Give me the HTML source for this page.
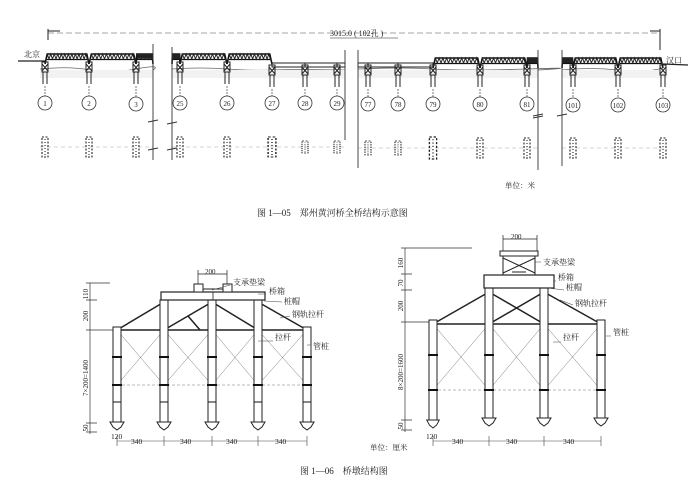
<!DOCTYPE html>
<html><head><meta charset="utf-8"><style>
html,body{margin:0;padding:0;background:#fff;}
svg{display:block;}
text{font-family:"Liberation Serif","Noto Serif CJK SC",serif;fill:#222;}
</style></head><body>
<svg width="690" height="488" viewBox="0 0 690 488" xmlns="http://www.w3.org/2000/svg">
<defs>
<g id="truss">
<path d="M0,11 L5,1 L95,1 L100,11" fill="none" stroke="#111" stroke-width="1.6" vector-effect="non-scaling-stroke"/>
<path d="M4,6.5 L96,6.5" stroke="#111" stroke-width="1.2" vector-effect="non-scaling-stroke"/>
<polyline points="5,1 9,6 13,1 17,6 21,1 25,6 29,1 33,6 37,1 41,6 45,1 49,6 53,1 57,6 61,1 65,6 69,1 73,6 77,1 81,6 85,1 89,6 93,1 96,6" fill="none" stroke="#222" stroke-width="1" vector-effect="non-scaling-stroke"/>
</g>
<g id="gird">
<rect x="0" y="0" width="100" height="4" fill="none" stroke="#222" stroke-width="1" vector-effect="non-scaling-stroke"/>
</g>
<g id="pier" stroke="#222" fill="none" stroke-width="1">
<path d="M-3,-2 L3,-2 L3,8 L-3,8 Z"/>
<path d="M-3,0 L3,7 M3,0 L-3,7"/>
<path d="M-2,8 L-2,20 M2,8 L2,20"/>
<path d="M0,22 L0,33" stroke-width="0.6" stroke-dasharray="2,1"/>
</g>
<g id="plan" fill="none" stroke="#222" stroke-width="1.1" stroke-dasharray="2,1.5">
<rect x="-3" y="-10" width="6" height="20"/>
<path d="M0,-8 L0,8" stroke-dasharray="1,2"/>
</g>
<g id="foot" stroke="#222" fill="#fff" stroke-width="1">
<path d="M-7,0 L7,0 L4,5 L0,8 L-4,5 Z"/>
</g>
</defs>

<path d="M48,33 L660,33" stroke="#888" stroke-width="0.8" stroke-dasharray="6,3"/>
<path d="M48,29 L48,40 M48,31 L60,31 M660,29 L660,50 M650,31 L660,31" stroke="#222" stroke-width="1"/>
<text x="330" y="36" font-size="8">3015.0 ( 102孔 )</text>
<path d="M330,38 L398,38" stroke="#222" stroke-width="0.6"/>

<text x="24" y="57" font-size="8">北京</text>
<path d="M18,61 L45,61" stroke="#222" stroke-width="1.3"/>
<text x="666" y="63" font-size="8">汉口</text>
<path d="M663,64 L688,65" stroke="#222" stroke-width="1.2"/>

<g stroke="#666" stroke-width="0.8" fill="none">
<path d="M40,69 Q70,66 90,70 T136,69 T153,70"/>
<path d="M172,69 Q200,67 227,69 T272,70 T345,70"/>
<path d="M358,69 Q400,67 433,69 T527,69 T538,70"/>
<path d="M562,70 Q590,67 618,70 T663,68"/>
</g>
<rect x="40" y="70" width="113" height="8" fill="#f2f2f2"/>
<rect x="172" y="70" width="173" height="8" fill="#f2f2f2"/>
<rect x="358" y="70" width="180" height="8" fill="#f2f2f2"/>
<rect x="562" y="70" width="105" height="8" fill="#f2f2f2"/>

<use href="#truss" transform="translate(45,53) scale(0.44,1)"/>
<use href="#truss" transform="translate(89,53) scale(0.47,1)"/>
<use href="#truss" transform="translate(136,53) scale(0.17,1)"/>
<use href="#truss" transform="translate(172,53) scale(0.08,1)"/>
<use href="#truss" transform="translate(180,53) scale(0.47,1)"/>
<use href="#truss" transform="translate(227,53) scale(0.45,1)"/>
<use href="#gird" transform="translate(272,63) scale(0.33,1)"/>
<use href="#gird" transform="translate(305,63) scale(0.32,1)"/>
<use href="#gird" transform="translate(337,63) scale(0.08,1)"/>
<use href="#gird" transform="translate(358,63) scale(0.10,1)"/>
<use href="#gird" transform="translate(368,63) scale(0.30,1)"/>
<use href="#gird" transform="translate(398,63) scale(0.35,1)"/>
<use href="#truss" transform="translate(433,57) scale(0.47,1)"/>
<use href="#truss" transform="translate(480,57) scale(0.47,1)"/>
<use href="#truss" transform="translate(527,57) scale(0.11,1)"/>
<use href="#truss" transform="translate(562,57) scale(0.11,1)"/>
<use href="#truss" transform="translate(573,57) scale(0.45,1)"/>
<use href="#truss" transform="translate(618,57) scale(0.45,1)"/>

<g>
<use href="#pier" transform="translate(45,64)"/>
<use href="#pier" transform="translate(89,64)"/>
<use href="#pier" transform="translate(136,64)"/>
<use href="#pier" transform="translate(180,64)"/>
<use href="#pier" transform="translate(227,64)"/>
<use href="#pier" transform="translate(272,67)"/>
<use href="#pier" transform="translate(305,67)"/>
<use href="#pier" transform="translate(337,67)"/>
<use href="#pier" transform="translate(368,67)"/>
<use href="#pier" transform="translate(398,67)"/>
<use href="#pier" transform="translate(433,67)"/>
<use href="#pier" transform="translate(480,67)"/>
<use href="#pier" transform="translate(527,67)"/>
<use href="#pier" transform="translate(573,67)"/>
<use href="#pier" transform="translate(618,67)"/>
<use href="#pier" transform="translate(663,67)"/>
</g>

<g fill="#fff" stroke="#333" stroke-width="0.8">
<circle cx="45" cy="103" r="7"/><circle cx="89" cy="103" r="7"/><circle cx="136" cy="104" r="7"/>
<circle cx="180" cy="103" r="7"/><circle cx="227" cy="103" r="7"/><circle cx="272" cy="103" r="7"/>
<circle cx="305" cy="103" r="7"/><circle cx="337" cy="103" r="7"/>
<circle cx="368" cy="104" r="7"/><circle cx="398" cy="104" r="7"/><circle cx="433" cy="104" r="7"/>
<circle cx="480" cy="104" r="7"/><circle cx="527" cy="104" r="7"/>
<circle cx="573" cy="105" r="7"/><circle cx="618" cy="105" r="7"/><circle cx="663" cy="105" r="7"/>
</g>
<g font-size="7" text-anchor="middle">
<text x="45" y="106">1</text><text x="89" y="106">2</text><text x="136" y="107">3</text>
<text x="180" y="106">25</text><text x="227" y="106">26</text><text x="272" y="106">27</text>
<text x="305" y="106">28</text><text x="337" y="106">29</text>
<text x="368" y="107">77</text><text x="398" y="107">78</text><text x="433" y="107">79</text>
<text x="480" y="107">80</text><text x="527" y="107">81</text>
<text x="573" y="108">101</text><text x="618" y="108">102</text><text x="663" y="108">103</text>
</g>

<g stroke="#aaa" stroke-width="0.6" stroke-dasharray="4,3">
<path d="M40,147 L153,147 M172,147 L345,147 M358,148 L538,148 M562,148 L667,148"/>
</g>
<g>
<use href="#plan" transform="translate(45,147)"/><use href="#plan" transform="translate(89,147)"/><use href="#plan" transform="translate(136,147)"/>
<use href="#plan" transform="translate(180,147)"/><use href="#plan" transform="translate(227,147)"/><use href="#plan" transform="translate(272,147) scale(1.3,1)"/>
<use href="#plan" transform="translate(305,147) scale(1,0.6)"/><use href="#plan" transform="translate(337,147) scale(1,0.6)"/>
<use href="#plan" transform="translate(368,148) scale(1,0.7)"/><use href="#plan" transform="translate(398,148) scale(1,0.7)"/><use href="#plan" transform="translate(433,148) scale(1.2,1.1)"/>
<use href="#plan" transform="translate(480,148)"/><use href="#plan" transform="translate(527,148)"/>
<use href="#plan" transform="translate(573,148)"/><use href="#plan" transform="translate(618,148)"/><use href="#plan" transform="translate(663,148)"/>
</g>

<g stroke="#333" stroke-width="0.9">
<path d="M153,44 L153,160 M172,47 L172,160 M345,50 L345,140 M358,50 L358,168 M538,50 L538,170 M562,50 L562,166"/>
<path d="M148,122 L158,120 M167,124 L177,122 M148,150 L158,148 M167,150 L177,148 M533,116 L543,114 M557,116 L567,114 M533,118 L543,116"/>
</g>

<text x="505" y="188" font-size="7.5">单位：米</text>
<text x="257" y="216" font-size="9">图 1—05　郑州黄河桥全桥结构示意图</text>

<g stroke="#333" stroke-width="0.7" fill="none">
<path d="M90,283 L90,434"/>
<path d="M86,283 L110,283 M86,300 L97,300 M86,330 L117,330 M86,423 L97,423 M86,432 L97,432"/>
</g>
<g font-size="7">
<text transform="translate(88,294) rotate(-90)" text-anchor="middle">110</text>
<text transform="translate(88,316) rotate(-90)" text-anchor="middle">200</text>
<text transform="translate(88,378) rotate(-90)" text-anchor="middle">7×200=1400</text>
<text transform="translate(88,428) rotate(-90)" text-anchor="middle">50</text>
</g>
<g stroke="#777" stroke-width="0.5" fill="none">
<path d="M117,330 L164,385 M164,330 L117,385 M164,330 L212,385 M212,330 L164,385 M212,330 L258,385 M258,330 L212,385 M258,330 L307,385 M307,330 L258,385"/>
<path d="M117,385 L307,385" stroke-dasharray="3,2"/>
</g>
<g stroke="#222" stroke-width="1.5" fill="none">
<path d="M117,330 L307,330"/>
<path d="M117,330 L164,302 M164,330 L212,302 M212,302 L258,330 M258,302 L307,330 M188,316 L200,330"/>
</g>
<g stroke="#222" stroke-width="1" fill="#fff">
<rect x="113" y="327" width="8" height="95"/>
<rect x="160" y="300" width="8" height="122"/>
<rect x="208" y="300" width="8" height="122"/>
<rect x="254" y="300" width="8" height="122"/>
<rect x="303" y="327" width="8" height="95"/>
</g>
<g stroke="#111" stroke-width="2">
<path d="M112,357 L122,357 M159,357 L169,357 M207,357 L217,357 M253,357 L263,357 M302,357 L312,357"/>
<path d="M112,385 L122,385 M159,385 L169,385 M207,385 L217,385 M253,385 L263,385 M302,385 L312,385"/>
<path d="M113,402 L121,402 M160,402 L168,402 M208,402 L216,402 M254,402 L262,402 M303,402 L311,402" stroke-width="1"/>
</g>
<use href="#foot" transform="translate(117,422)"/><use href="#foot" transform="translate(164,422)"/><use href="#foot" transform="translate(212,422)"/><use href="#foot" transform="translate(258,422)"/><use href="#foot" transform="translate(307,422)"/>
<rect x="161" y="292" width="104" height="8" fill="#fff" stroke="#222" stroke-width="1.2"/>
<path d="M213,292 L213,300" stroke="#222" stroke-width="0.8"/>
<g stroke="#222" stroke-width="1" fill="#fff">
<rect x="194" y="284" width="9" height="8"/><rect x="223" y="284" width="9" height="8"/>
<path d="M203,289 L223,289"/>
</g>
<path d="M198,274 L227,274 M198,270 L198,284 M227,270 L227,284" stroke="#222" stroke-width="0.7"/>
<text x="205" y="274" font-size="7">200</text>
<g font-size="8">
<text x="233" y="285">支承垫梁</text>
<text x="269" y="294">桥箱</text>
<text x="284" y="304">桩帽</text>
<text x="292" y="317">钢轨拉杆</text>
<text x="275" y="340">拉杆</text>
<text x="313" y="349">管桩</text>
</g>
<g stroke="#444" stroke-width="0.6" fill="none">
<path d="M230,285 L212,290 M266,294 L258,294 M282,302 L264,301 M290,316 L280,318 M273,341 L258,341 M311,350 L311,345 L307,345"/>
<path d="M117,441 L307,441 M117,436 L117,446 M164,436 L164,446 M212,436 L212,446 M258,436 L258,446 M307,436 L307,446"/>
</g>
<g font-size="7.5">
<text x="131" y="444">340</text><text x="180" y="444">340</text><text x="226" y="444">340</text><text x="275" y="444">340</text>
<text x="111" y="439">120</text>
</g>

<g stroke="#333" stroke-width="0.7" fill="none">
<path d="M405,248 L405,432"/>
<path d="M401,248 L472,248 M401,274 L412,274 M401,290 L412,290 M401,322 L432,322 M401,420 L412,420 M401,430 L412,430"/>
</g>
<g font-size="7">
<text transform="translate(403,263) rotate(-90)" text-anchor="middle">160</text>
<text transform="translate(403,283) rotate(-90)" text-anchor="middle">70</text>
<text transform="translate(403,306) rotate(-90)" text-anchor="middle">200</text>
<text transform="translate(403,372) rotate(-90)" text-anchor="middle">8×200=1600</text>
<text transform="translate(403,426) rotate(-90)" text-anchor="middle">50</text>
</g>
<g stroke="#777" stroke-width="0.5" fill="none">
<path d="M433,324 L489,390 M489,324 L433,390 M489,324 L544,390 M544,324 L489,390 M544,324 L601,390 M601,324 L544,390"/>
<path d="M433,390 L601,390" stroke-dasharray="3,2"/>
</g>
<g stroke="#222" stroke-width="1.5" fill="none">
<path d="M433,324 L601,324"/>
<path d="M433,324 L489,292 M489,292 L544,324 M489,324 L544,292 M544,292 L601,324"/>
</g>
<g stroke="#222" stroke-width="1" fill="#fff">
<rect x="429" y="320" width="8" height="100"/>
<rect x="485" y="288" width="8" height="130"/>
<rect x="540" y="288" width="8" height="130"/>
<rect x="597" y="320" width="8" height="100"/>
</g>
<g stroke="#111" stroke-width="2">
<path d="M428,355 L438,355 M484,355 L494,355 M539,355 L549,355 M596,355 L606,355"/>
<path d="M428,390 L438,390 M484,390 L494,390 M539,390 L549,390 M596,390 L606,390"/>
</g>
<use href="#foot" transform="translate(433,420) scale(0.9,1)"/><use href="#foot" transform="translate(489,418)"/><use href="#foot" transform="translate(544,418)"/><use href="#foot" transform="translate(601,418)"/>
<rect x="484" y="275" width="70" height="13" fill="#fff" stroke="#222" stroke-width="1.2"/>
<g stroke="#222" stroke-width="1" fill="none">
<rect x="500" y="251" width="38" height="5"/>
<path d="M503,256 L503,275 M535,256 L535,275 M503,258 L535,273 M535,258 L503,273 M512,272 L526,272"/>
</g>
<path d="M503,239 L537,239 M503,235 L503,251 M537,235 L537,251" stroke="#222" stroke-width="0.7"/>
<text x="511" y="239" font-size="7">200</text>
<g font-size="8">
<text x="543" y="265">支承垫梁</text>
<text x="558" y="280">桥箱</text>
<text x="566" y="290">桩帽</text>
<text x="575" y="306">钢轨拉杆</text>
<text x="613" y="335">管桩</text>
<text x="563" y="340">拉杆</text>
</g>
<g stroke="#444" stroke-width="0.6" fill="none">
<path d="M541,262 L535,262 M556,281 L554,281 M564,290 L548,288 M573,305 L560,300 M611,336 L606,336 M561,342 L553,342"/>
<path d="M433,441 L601,441 M433,436 L433,446 M489,436 L489,446 M544,436 L544,446 M601,436 L601,446"/>
</g>
<g font-size="7.5">
<text x="452" y="444">340</text><text x="506" y="444">340</text><text x="563" y="444">340</text>
<text x="426" y="439">120</text>
</g>

<text x="370" y="450" font-size="7.5">单位：厘米</text>
<text x="300" y="474" font-size="9">图 1—06　桥墩结构图</text>
</svg>
</body></html>
